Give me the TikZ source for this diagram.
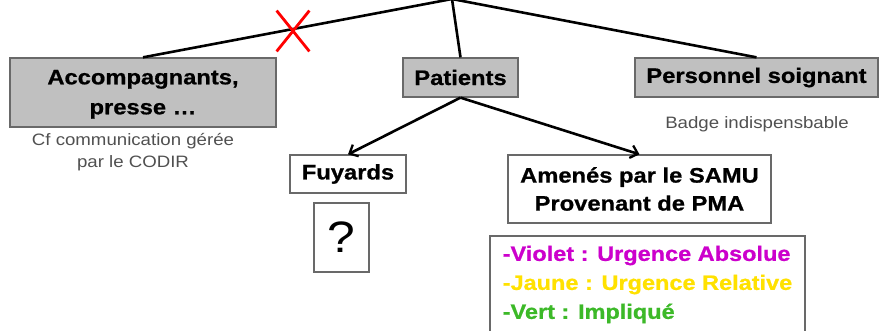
\documentclass[tikz,border=0pt]{standalone}
\usepackage{fontspec}
\setmainfont[FakeStretch=1.13, BoldFeatures={FakeBold=0.8}]{Liberation Sans}
\usetikzlibrary{arrows.meta,shapes.misc}
\definecolor{boxgray}{RGB}{192,192,192}
\definecolor{bordergray}{RGB}{105,105,105}
\definecolor{notegray}{RGB}{80,80,80}
\definecolor{violetc}{RGB}{204,0,204}
\definecolor{jaunec}{RGB}{255,225,0}
\definecolor{vertc}{RGB}{60,185,40}
\begin{document}
\begin{tikzpicture}[x=1pt,y=-1pt,
  boxbase/.style={draw=bordergray, line width=1.3pt, inner sep=0pt, align=center},
  graybox/.style={boxbase, fill=boxgray, font=\fontsize{21}{30}\selectfont\bfseries},
  whitebox/.style={boxbase, fill=white, font=\fontsize{21}{28}\selectfont\bfseries},
  note/.style={text=notegray, align=center, inner sep=0pt, font=\fontsize{16.5}{22}\selectfont},
  link/.style={line width=2.6pt, black},
  arr/.style={link, -{Straight Barb[length=7pt,width=13pt,line width=2.3pt]}}]
\useasboundingbox (0,0) rectangle (879,331);
\coordinate (apex) at (452,-1);
\node[graybox, minimum width=266pt, minimum height=69pt] (acc) at (143,92.5) {\rule{0pt}{18pt}Accompagnants,\\presse …};
\node[graybox, minimum width=115pt, minimum height=39pt] (pat) at (460.5,77.5) {Patients};
\node[graybox, minimum width=243pt, minimum height=39pt] (pers) at (756.5,77.5) {Personnel soignant};
\node[note] (cf) at (133,152) {Cf communication gérée\\par le CODIR};
\node[note] (badge) at (757,124) {Badge indispensbable};
\node[whitebox, minimum width=116pt, minimum height=38pt] (fuy) at (348,174) {Fuyards};
\node[boxbase, fill=white, minimum width=55pt, minimum height=69pt, font=\fontsize{44}{44}\selectfont] (q) at (341.5,237.5) {?};
\node[whitebox, minimum width=263pt, minimum height=68pt] (amen) at (639.5,189) {Amenés par le SAMU\\Provenant de PMA};
\node[boxbase, fill=white, minimum width=315pt, minimum height=97pt, align=left, font=\fontsize{20.8}{29}\selectfont\bfseries] (leg) at (647.5,284.5)
  {\textcolor{violetc}{-Violet : Urgence Absolue}\\\textcolor{jaunec}{-Jaune : Urgence Relative}\\\textcolor{vertc}{-Vert : Impliqué}};
\draw[link] (apex) -- (acc.north);
\draw[link] (apex) -- (pat.north);
\draw[link] (apex) -- (pers.north);
\draw[arr] (pat.south) -- (fuy.north);
\draw[arr] (pat.south) -- (amen.north);
\node[cross out, draw=red, line width=2.8pt, minimum width=30pt, minimum height=38pt, inner sep=0pt] (xmark) at (293,31) {};
\end{tikzpicture}
\end{document}
